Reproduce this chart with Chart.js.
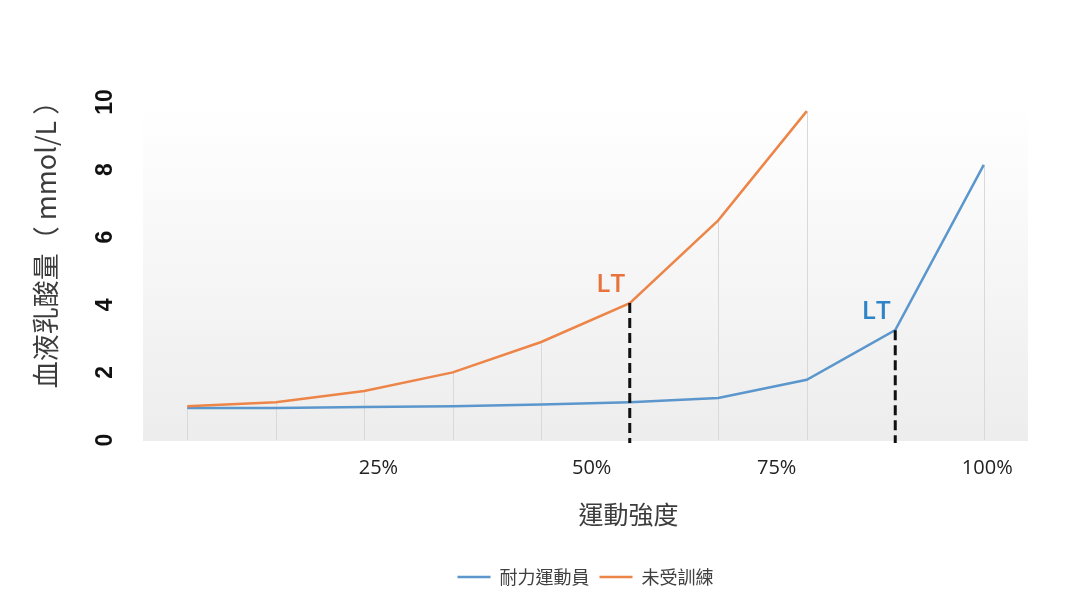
<!DOCTYPE html>
<html>
<head>
<meta charset="utf-8">
<script src="https://cdn.jsdelivr.net/npm/chart.js@4"></script>
<style>
  html, body { margin: 0; background: #fff; }
</style>
</head>
<body>
<canvas id="c" width="1080" height="614"></canvas>
<script>
// lactate curve — blood lactate vs exercise intensity

const STEPS      = ['1', '2', '3', '4', '5', '6', '7', '8', '9', '10'];
const ATHLETE    = [0.95, 0.95, 0.98, 1.0, 1.05, 1.12, 1.24, 1.78, 3.25, 8.14];
const UNTRAINED  = [1.0, 1.12, 1.45, 2.0, 2.9, 4.05, 6.5, 9.73, null, null];
const LT_STEPS   = [5, 8];            // steps where the threshold drop line is dashed
const Y_TICKS    = [0, 2, 4, 6, 8, 10];
const PCT_LABELS = ['25%', '50%', '75%', '100%'];
const PCT_AT     = [2.16, 4.57, 6.66, 9.04];   // in step units

const X_TITLE = '運動強度';
const Y_TITLE = '血液乳酸量（ mmol/L ）';

const CJK   = "'Noto Sans CJK TC', 'Noto Sans', sans-serif";
const LATIN = "'Open Sans', 'Noto Sans', sans-serif";

const BLUE   = '#5B97CC';
const ORANGE = '#EC8547';
const LT_COLORS = ['#2E84C8', '#E8743B'];

const plotBg = {
  id: 'plotBg',
  beforeDraw(chart) {
    const { ctx, chartArea: a } = chart;
    const g = ctx.createLinearGradient(0, a.top, 0, a.bottom);
    g.addColorStop(0, '#ffffff');
    g.addColorStop(1, '#ededed');
    ctx.save();
    ctx.fillStyle = g;
    ctx.fillRect(a.left, a.top, a.right - a.left, a.bottom - a.top + 1);
    ctx.restore();
  },
};

// highest point at each step, taken from the dataset metas
function topPoint(chart, i) {
  let best = null;
  chart.data.datasets.forEach((ds, d) => {
    if (ds.data[i] == null) return;
    const pt = chart.getDatasetMeta(d).data[i];
    if (!best || pt.y < best.pt.y) best = { pt, d };
  });
  return best;
}

const dropLines = {
  id: 'dropLines',
  beforeDatasetsDraw(chart) {
    const { ctx, chartArea: a } = chart;
    ctx.save();
    ctx.strokeStyle = '#d9d9d9';
    ctx.lineWidth = 1;
    STEPS.forEach((_, i) => {
      if (LT_STEPS.includes(i)) return;
      const top = topPoint(chart, i);
      if (!top) return;
      const x = Math.round(top.pt.x) + 0.5;
      ctx.beginPath();
      ctx.moveTo(x, top.pt.y);
      ctx.lineTo(x, a.bottom);
      ctx.stroke();
    });
    ctx.restore();
  },
  afterDatasetsDraw(chart) {
    const { ctx, chartArea: a } = chart;
    ctx.save();
    LT_STEPS.forEach(i => {
      const top = topPoint(chart, i);
      if (!top) return;
      ctx.strokeStyle = '#111';
      ctx.lineWidth = 3;
      ctx.setLineDash([10, 5]);
      ctx.beginPath();
      ctx.moveTo(top.pt.x, top.pt.y);
      ctx.lineTo(top.pt.x, a.bottom + 3);
      ctx.stroke();

      ctx.setLineDash([]);
      ctx.fillStyle = LT_COLORS[top.d];
      ctx.font = `600 26px ${LATIN}`;
      ctx.textAlign = 'center';
      ctx.textBaseline = 'middle';
      ctx.fillText('LT', top.pt.x - 19, top.pt.y - 19);
    });
    ctx.restore();
  },
};

const axisTitles = {
  id: 'axisTitles',
  afterDraw(chart) {
    const { ctx, chartArea: a } = chart;
    ctx.save();
    ctx.fillStyle = '#3c3c3c';
    ctx.textAlign = 'center';
    ctx.textBaseline = 'middle';
    ctx.font = `25px ${CJK}`;
    ctx.fillText(X_TITLE, (a.left + a.right) / 2 + 43, a.bottom + 74);
    ctx.font = `27px ${CJK}`;
    ctx.translate(46, (a.top + a.bottom) / 2 - 33);
    ctx.rotate(-Math.PI / 2);
    ctx.fillText(Y_TITLE, 0, 0);
    ctx.restore();
  },
};

new Chart(document.getElementById('c'), {
  type: 'line',
  data: {
    labels: STEPS,
    datasets: [
      {
        label: '耐力運動員',
        data: ATHLETE,
        borderColor: BLUE,
        backgroundColor: BLUE,
        borderWidth: 2.5,
        pointRadius: 0,
        tension: 0,
        order: 1,
      },
      {
        label: '未受訓練',
        data: UNTRAINED,
        borderColor: ORANGE,
        backgroundColor: ORANGE,
        borderWidth: 2.5,
        pointRadius: 0,
        tension: 0,
        order: 0,
      },
    ],
  },
  options: {
    responsive: false,
    animation: false,
    layout: { padding: { top: 102, right: 52, bottom: 18, left: 0 } },
    plugins: {
      legend: {
        position: 'bottom',
        fullSize: false,
        labels: {
          usePointStyle: true,
          pointStyle: 'line',
          pointStyleWidth: 33,
          color: '#404040',
          padding: 10,
          font: { family: CJK, size: 18 },
          sort: (a, b) => a.datasetIndex - b.datasetIndex,
        },
      },
      tooltip: { enabled: false },
    },
    scales: {
      x: {
        display: false,
        offset: true,
      },
      x2: {
        type: 'linear',
        position: 'bottom',
        min: -0.5,
        max: 9.5,
        bounds: 'data',
        afterBuildTicks: s => { s.ticks = PCT_AT.map(v => ({ value: v })); },
        afterFit: s => { s.height = 118; },
        grid: { display: false, drawTicks: false },
        border: { display: false },
        ticks: {
          autoSkip: false,
          maxRotation: 0,
          padding: 16,
          color: '#222',
          font: { family: LATIN, size: 20 },
          callback: (v, i) => PCT_LABELS[i],
        },
      },
      y: {
        min: 0,
        max: 10,
        afterBuildTicks: s => { s.ticks = Y_TICKS.map(v => ({ value: v })); },
        afterFit: s => { s.width = 143; },
        grid: { display: false, drawTicks: false },
        border: { display: false },
        ticks: {
          minRotation: 90,
          maxRotation: 90,
          crossAlign: 'center',
          padding: 25,
          color: '#111',
          font: { family: "'Liberation Sans', Arial, sans-serif", size: 23, weight: 'bold' },
        },
      },
    },
  },
  plugins: [plotBg, dropLines, axisTitles],
});
</script>
</body>
</html>
